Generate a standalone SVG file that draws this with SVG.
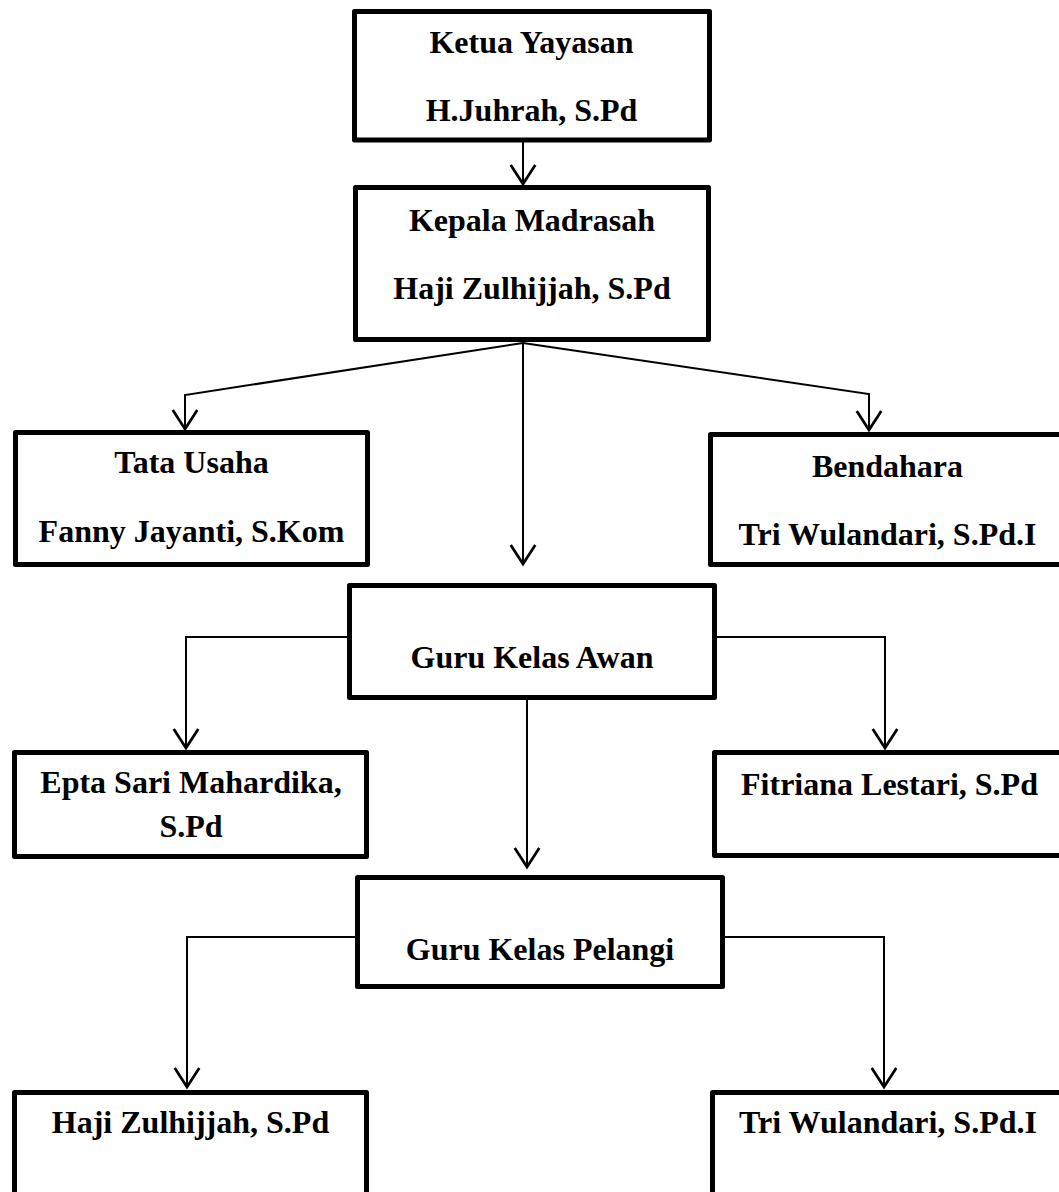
<svg xmlns="http://www.w3.org/2000/svg" width="1059" height="1192" viewBox="0 0 1059 1192">
<style>
.box{fill:#fff;stroke:#000;stroke-width:5;stroke-linejoin:round}
.lbl{font-family:"Liberation Serif","Times New Roman",serif;font-weight:bold;font-size:32px;fill:#000;text-anchor:middle}
.con{fill:none;stroke:#000;stroke-width:2;stroke-linejoin:miter}
</style>
<defs>
<marker id="arr" markerUnits="userSpaceOnUse" markerWidth="30" markerHeight="30" viewBox="-16 -11 18 22" refX="0" refY="0" orient="auto" overflow="visible">
<path d="M-14,-9 L0,0 L-14,9" fill="none" stroke="#000" stroke-width="2"/>
</marker>
</defs>
<rect x="0" y="0" width="1059" height="1192" fill="#fff"/>
<g id="connectors">
<path class="con" d="M523,142 L523,184" marker-end="url(#arr)"/>
<path class="con" d="M523,343 L185,395 L185,429" marker-end="url(#arr)"/>
<path class="con" d="M523,343 L869,394 L869,430" marker-end="url(#arr)"/>
<path class="con" d="M523,343 L523,564" marker-end="url(#arr)"/>
<path class="con" d="M347,637 L186,637 L186,748" marker-end="url(#arr)"/>
<path class="con" d="M717,637 L885,637 L885,748" marker-end="url(#arr)"/>
<path class="con" d="M527,700 L527,867" marker-end="url(#arr)"/>
<path class="con" d="M355,937 L187,937 L187,1087" marker-end="url(#arr)"/>
<path class="con" d="M725,937 L884,937 L884,1087" marker-end="url(#arr)"/>
</g>
<g id="ketua">
<rect class="box" x="354.5" y="11.5" width="355" height="128.5"/>
<text class="lbl" x="531.5" y="53">Ketua Yayasan</text>
<text class="lbl" x="531.5" y="121">H.Juhrah, S.Pd</text>
</g>
<g id="kepala">
<rect class="box" x="355.5" y="187.5" width="353" height="152"/>
<text class="lbl" x="532" y="231">Kepala Madrasah</text>
<text class="lbl" x="532" y="299">Haji Zulhijjah, S.Pd</text>
</g>
<g id="tatausaha">
<rect class="box" x="15.5" y="432.5" width="352" height="132"/>
<text class="lbl" x="191.5" y="473">Tata Usaha</text>
<text class="lbl" x="191.5" y="542">Fanny Jayanti, S.Kom</text>
</g>
<g id="bendahara">
<rect class="box" x="710.5" y="434.5" width="355" height="130"/>
<text class="lbl" x="887.5" y="477">Bendahara</text>
<text class="lbl" x="887.5" y="545">Tri Wulandari, S.Pd.I</text>
</g>
<g id="awan">
<rect class="box" x="349.5" y="585.5" width="365" height="112"/>
<text class="lbl" x="532" y="668">Guru Kelas Awan</text>
</g>
<g id="epta">
<rect class="box" x="14.5" y="752.5" width="352" height="104"/>
<text class="lbl" x="191" y="793">Epta Sari Mahardika,</text>
<text class="lbl" x="191" y="837">S.Pd</text>
</g>
<g id="fitriana">
<rect class="box" x="714.5" y="752.5" width="355" height="103"/>
<text class="lbl" x="889.5" y="795">Fitriana Lestari, S.Pd</text>
</g>
<g id="pelangi">
<rect class="box" x="357.5" y="877.5" width="365" height="109"/>
<text class="lbl" x="540" y="960">Guru Kelas Pelangi</text>
</g>
<g id="haji">
<rect class="box" x="14.5" y="1092.5" width="352" height="120"/>
<text class="lbl" x="190.5" y="1133">Haji Zulhijjah, S.Pd</text>
</g>
<g id="tri">
<rect class="box" x="712.5" y="1092.5" width="355" height="120"/>
<text class="lbl" x="888" y="1133">Tri Wulandari, S.Pd.I</text>
</g>
</svg>
